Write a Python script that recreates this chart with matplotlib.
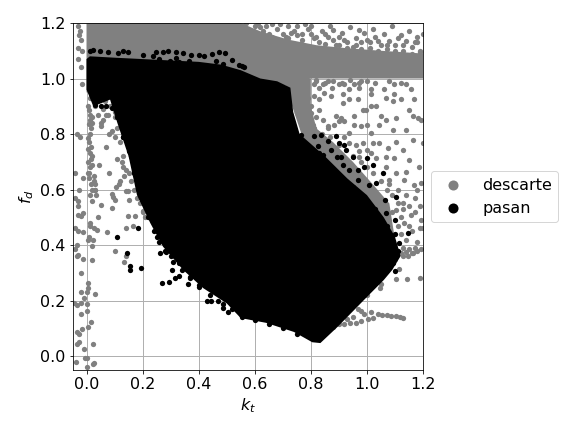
import matplotlib
matplotlib.use("Agg")
import matplotlib.pyplot as plt

# dense masses, read as outlines
black_kt = [0.0, 0.012, 0.1, 0.2, 0.3, 0.4, 0.48, 0.55, 0.62, 0.68, 0.727, 0.737, 0.76, 0.85, 0.93, 1.0, 1.06, 1.1,
            1.12, 1.09, 1.06, 1.0, 0.895, 0.834, 0.805, 0.74, 0.64, 0.55, 0.5, 0.416, 0.345, 0.273, 0.227,
            0.18, 0.15, 0.11, 0.084, 0.05, 0.024, 0.0]
black_fd = [1.07, 1.08, 1.075, 1.07, 1.065, 1.06, 1.05, 1.03, 1.0, 0.99, 0.967, 0.88, 0.80, 0.72, 0.64, 0.58, 0.50, 0.43,
            0.36, 0.31, 0.274, 0.213, 0.105, 0.047, 0.05, 0.087, 0.12, 0.137, 0.19, 0.245, 0.31, 0.394, 0.48,
            0.58, 0.72, 0.84, 0.924, 0.91, 0.90, 0.96]

band_kt = [0.0, 0.55, 0.62, 0.72, 0.82, 0.92, 1.05, 1.2, 1.2, 1.1, 0.98, 0.8, 0.76, 0.6, 0.0]
band_fd = [1.2, 1.2, 1.17, 1.14, 1.12, 1.11, 1.10, 1.09, 1.0, 1.0, 1.0, 1.0, 0.99, 0.95, 0.95]

wedge_kt = [0.70, 0.80, 0.80, 0.82, 0.88, 0.95, 1.02, 1.08, 1.1, 1.11, 1.0, 0.8]
wedge_fd = [1.0, 1.0, 0.90, 0.82, 0.77, 0.70, 0.62, 0.55, 0.42, 0.34, 0.4, 0.7]

# gray points, left side
gray_left_kt = [-0.04, -0.03, -0.02, -0.014, -0.04, -0.03, -0.014, 0.012, 0.012, 0.01, 0.024, 0.018, -0.033, -0.04,
                -0.035, -0.03, -0.012, 0.02, -0.02, 0.006, 0.006, -0.018, 0.0, -0.01, -0.045, -0.035, -0.018, 0.0,
                0.002, -0.018, 0.017, 0.006, -0.015, -0.033, -0.026, -0.033, -0.026, 0.024, -0.008, -0.006, 0.0,
                -0.038, 0.024, 0.027, 0.0, 0.03, 0.053, 0.038, 0.073, 0.091, 0.095, 0.1, 0.148, 0.152, 0.148, 0.172,
                0.14, 0.166, 0.102, 0.134, 0.14, 0.2,
                0.006, 0.01, 0.014, 0.018, 0.012, 0.008, 0.016, 0.02, 0.012, 0.006, 0.01, 0.015, 0.006, 0.011, 0.004,
                0.012, 0.006, 0.01, 0.03, 0.02, 0.035, 0.06, 0.075, 0.05, 0.09, 0.065, 0.085, 0.1, 0.11, 0.07, 0.045,
                0.08, 0.12, 0.13, 0.125, 0.135, 0.115, 0.105, 0.14, 0.02, 0.03, 0.012, 0.09, 0.028, 0.012, 0.015,
                -0.03, -0.025, -0.028, -0.02, -0.03, -0.015, -0.03, -0.02, -0.035, -0.025, -0.012, -0.028, -0.042,
                -0.03, -0.015, -0.03]
gray_left_fd = [0.57, 0.54, 0.506, 0.515, 0.46, 0.452, 0.447, 0.48, 0.468, 0.43, 0.42, 0.395, 0.40, 0.385, 0.36, 0.363,
                0.35, 0.347, 0.30, 0.263, 0.245, 0.232, 0.232, 0.208, 0.19, 0.185, 0.19, 0.188, 0.164, 0.15, 0.124,
                0.104, 0.097, 0.088, 0.078, 0.045, 0.05, 0.045, 0.027, -0.008, -0.008, -0.02, -0.027, -0.023, -0.04,
                0.223, 0.546, 0.453, 0.447, 0.534, 0.573, 0.564, 0.594, 0.564, 0.504, 0.506, 0.461, 0.47, 0.38, 0.338,
                0.36, 0.522,
                0.90, 0.885, 0.87, 0.86, 0.85, 0.835, 0.82, 0.84, 0.80, 0.785, 0.77, 0.755, 0.745, 0.73, 0.70, 0.68,
                0.66, 0.64, 0.62, 0.60, 0.58, 0.85, 0.87, 0.84, 0.81, 0.92, 0.90, 0.86, 0.82, 0.755, 0.69, 0.66, 0.63,
                0.68, 0.70, 0.65, 0.62, 0.61, 0.595, 0.72, 0.60, 0.58, 0.585, 0.63, 0.93, 0.96,
                1.19, 1.17, 1.155, 1.14, 1.11, 1.10, 1.07, 1.04, 0.80, 0.79, 0.64, 0.60, 0.66, 0.56, 0.98, 0.51]

# gray points, right of the black mass
gray_right_kt = [0.758, 0.77, 0.752, 0.818, 0.812, 0.83, 0.842, 0.848, 0.86, 0.877, 0.901, 0.919, 0.955, 0.937, 0.979,
                 0.973, 1.014, 1.014, 1.062, 1.098, 1.139, 1.157, 1.169, 1.098, 1.068, 1.092, 1.121, 0.871, 0.913,
                 0.937, 0.967, 0.913, 0.889, 0.907, 0.919, 0.901, 0.955, 0.985, 0.996, 1.014, 1.032, 1.05, 1.068,
                 1.104, 1.151, 1.193, 1.163, 1.181, 1.139, 1.092, 1.044, 1.002, 1.014, 0.979, 0.955, 0.937, 0.883,
                 0.86, 0.83, 0.842, 0.806, 0.782, 0.8, 0.812, 0.83, 0.788, 0.77, 0.752, 0.782,
                 1.044, 1.074, 1.104, 1.127, 1.163, 1.199, 1.068, 1.104, 1.151, 1.187, 1.133, 1.193, 1.08, 1.02, 0.985,
                 1.002, 0.961, 0.937, 0.973, 1.014, 1.032, 1.068, 1.139, 1.098, 1.169,
                 1.188, 1.143, 1.105, 1.114, 1.194, 1.164, 1.146, 1.188, 1.158, 1.194, 1.134, 1.105, 1.129, 1.17, 1.188,
                 1.14, 1.15, 1.16, 1.17, 1.18, 1.13, 1.12, 1.045, 1.05, 1.0]
gray_right_fd = [0.976, 0.985, 0.955, 0.992, 0.979, 0.967, 0.979, 0.949, 0.992, 0.967, 0.979, 0.979, 0.979, 0.961, 0.992,
                 0.967, 0.961, 0.943, 0.961, 0.979, 0.979, 0.961, 0.925, 0.943, 0.931, 0.919, 0.925, 0.937, 0.943, 0.925,
                 0.925, 0.913, 0.864, 0.858, 0.846, 0.846, 0.864, 0.888, 0.888, 0.901, 0.901, 0.864, 0.852, 0.858, 0.888,
                 0.852, 0.864, 0.858, 0.816, 0.816, 0.834, 0.834, 0.804, 0.828, 0.834, 0.804, 0.834, 0.828, 0.888, 0.852,
                 0.834, 0.828, 0.876, 0.937, 0.925, 0.949, 0.901, 0.876, 0.864,
                 0.767, 0.749, 0.773, 0.743, 0.779, 0.767, 0.682, 0.658, 0.707, 0.682, 0.634, 0.622, 0.634, 0.767, 0.767,
                 0.743, 0.761, 0.767, 0.719, 0.731, 0.713, 0.719, 0.664, 0.713, 0.616,
                 0.283, 0.279, 0.277, 0.315, 0.387, 0.372, 0.36, 0.462, 0.51, 0.492, 0.48, 0.528, 0.552, 0.57, 0.54,
                 0.375, 0.385, 0.37, 0.39, 0.38, 0.36, 0.37, 0.247, 0.259, 0.22]

# gray points above the band
gray_top_kt = [0.44, 0.47, 0.5, 0.53, 0.56, 0.59, 0.62, 0.65, 0.68, 0.71, 0.74, 0.77, 0.8, 0.83, 0.86, 0.89, 0.92, 0.95,
               0.98, 1.01, 1.04, 1.07, 1.1, 1.13, 1.16, 1.19, 0.58, 0.63, 0.67, 0.72, 0.76, 0.79, 0.84, 0.87, 0.91, 0.94,
               0.99, 1.02, 1.06, 1.09, 1.12, 1.15, 1.18, 0.7, 0.75, 0.81, 0.85, 0.9, 0.96, 1.0, 1.05, 1.11, 1.17, 0.88,
               0.93, 0.97, 1.03, 1.08, 1.14, 1.2, 0.78, 0.73, 0.66, 0.6, 0.54]
gray_top_fd = [1.19, 1.18, 1.185, 1.175, 1.19, 1.17, 1.185, 1.16, 1.18, 1.15, 1.17, 1.14, 1.16, 1.13, 1.15, 1.12, 1.14,
               1.115, 1.13, 1.11, 1.135, 1.105, 1.12, 1.10, 1.115, 1.095, 1.15, 1.17, 1.14, 1.19, 1.125, 1.18, 1.17, 1.19,
               1.165, 1.185, 1.165, 1.18, 1.16, 1.19, 1.155, 1.17, 1.15, 1.13, 1.155, 1.145, 1.125, 1.15, 1.145, 1.14,
               1.12, 1.145, 1.13, 1.175, 1.13, 1.175, 1.15, 1.135, 1.135, 1.16, 1.195, 1.165, 1.195, 1.19, 1.155]

# gray points filling in around the masses
gray_extra_kt = [0.46, 0.49, 0.52, 0.55, 0.57, 0.6, 0.61, 0.64, 0.66, 0.69,
                 0.7, 0.72, 0.75, 0.77, 0.8, 0.82, 0.85, 0.88, 0.9, 0.93,
                 0.96, 0.98, 1.01, 1.04, 1.07, 1.1, 1.13, 1.16, 1.19, 1.18,
                 0.82, 0.85, 0.88, 0.91, 0.94, 0.97, 1.0, 1.03, 1.08, 1.12,
                 0.75, 0.77, 0.79, 0.78, 0.8, 0.82, 0.76, 0.79, 0.81, 0.84,
                 0.86, 0.87, 0.9, 0.92, 0.95, 0.97, 0.98, 1.0, 1.02, 1.05,
                 1.07, 1.09, 1.11, 1.13, 1.15, 1.12, 1.14, 1.16, 1.18, 1.13,
                 1.11, 1.09, 1.12, 1.17, 1.15, 1.2, 1.08, 1.11, 1.14, 1.18,
                 0.03, 0.04, 0.06, 0.07, 0.09, 0.1, 0.05, 0.08, 0.1, 0.12,
                 0.11, 0.13, 0.14, 0.15, 0.16, 0.17, 0.18, 0.19, 0.2, 0.21,
                 0.015, 0.02, 0.01, 0.025, 0.015, 0.03, 0.02, 0.04, 0.025, 0.005]
gray_extra_fd = [1.17, 1.2, 1.19, 1.165, 1.2, 1.15, 1.2, 1.19, 1.15, 1.195,
                 1.16, 1.145, 1.19, 1.16, 1.19, 1.15, 1.16, 1.14, 1.12, 1.11,
                 1.12, 1.105, 1.13, 1.1, 1.12, 1.1, 1.12, 1.09, 1.1, 1.13,
                 0.995, 0.985, 0.99, 0.985, 0.995, 0.985, 0.99, 0.985, 0.99, 0.985,
                 0.93, 0.95, 0.93, 0.86, 0.9, 0.86, 0.88, 0.82, 0.82, 0.8,
                 0.82, 0.79, 0.76, 0.79, 0.72, 0.74, 0.7, 0.68, 0.66, 0.63,
                 0.6, 0.58, 0.55, 0.53, 0.47, 0.44, 0.42, 0.45, 0.41, 0.39,
                 0.47, 0.52, 0.5, 0.52, 0.54, 0.46, 0.62, 0.6, 0.58, 0.6,
                 0.9, 0.87, 0.89, 0.87, 0.9, 0.88, 0.83, 0.8, 0.79, 0.77,
                 0.71, 0.72, 0.67, 0.66, 0.63, 0.6, 0.57, 0.55, 0.52, 0.5,
                 0.71, 0.69, 0.66, 0.65, 0.62, 0.6, 0.56, 0.5, 0.46, 0.42]

# gray tail under the mass
tail_kt = [0.88, 0.902, 0.92, 0.94, 0.96, 0.98, 1.004, 1.02, 0.968, 0.978, 0.99, 1.015, 1.04, 1.055, 1.07, 1.085, 1.105,
           1.118, 1.128, 0.95, 0.93]
tail_fd = [0.105, 0.115, 0.115, 0.118, 0.12, 0.125, 0.133, 0.136, 0.169, 0.163, 0.15, 0.159, 0.15, 0.148, 0.147, 0.145,
           0.143, 0.14, 0.139, 0.14, 0.135]

# black points around the edges of the mass
black_pts_kt = [0.012, 0.024, 0.047, 0.077, 0.112, 0.13, 0.148, 0.2, 0.249, 0.272, 0.29, 0.32, 0.343, 0.373, 0.402, 0.42,
                0.447, 0.471, 0.494, 0.518, 0.462, 0.556, 0.485, 0.26, 0.296, 0.33, 0.367, 0.32, 0.237, 0.545, 0.563,
                0.11, 0.185, 0.145, 0.156, 0.156, 0.195, 0.27, 0.295, 0.315, 0.33, 0.363, 0.305, 0.43, 0.445, 0.487,
                0.487, 0.505, 0.555, 0.263, 0.285,
                0.764, 0.812, 0.836, 0.889, 0.86, 0.899, 0.919, 0.925, 0.949, 0.895, 0.907, 0.999, 1.056, 1.02, 0.99,
                0.967, 0.913, 0.937, 1.032, 1.008, 0.967, 0.871, 0.824, 0.812, 0.842,
                1.063, 1.105, 1.015, 1.045, 1.069, 1.099, 1.146, 1.116, 1.099, 1.093, 1.099, 1.081, 1.051,
                0.02, 0.035, 0.05, 0.09, 0.105, 0.125, 0.145, 0.13, 0.16, 0.175, 0.2, 0.215, 0.25, 0.3, 0.33, 0.37, 0.4,
                0.03, 0.05, 0.07, 0.09, 0.11, 0.13, 0.15, 0.17, 0.19, 0.2,
                0.22, 0.24, 0.26, 0.28, 0.31, 0.34, 0.37, 0.4, 0.44, 0.47,
                0.52, 0.55, 0.6, 0.65, 0.7, 0.75,
                0.79, 0.83, 0.87, 0.9, 0.95, 0.99, 1.03, 1.07, 1.1, 1.11]
black_pts_fd = [1.10, 1.104, 1.098, 1.095, 1.091, 1.098, 1.095, 1.083, 1.095, 1.095, 1.098, 1.097, 1.091, 1.085, 1.083,
                1.08, 1.09, 1.095, 1.091, 1.068, 1.064, 1.046, 1.052, 1.07, 1.064, 1.06, 1.064, 1.073, 1.08, 1.05, 1.04,
                0.43, 0.46, 0.37, 0.325, 0.31, 0.318, 0.263, 0.267, 0.28, 0.29, 0.26, 0.31, 0.198, 0.2, 0.187, 0.172,
                0.158, 0.14, 0.37, 0.375,
                0.798, 0.792, 0.795, 0.792, 0.774, 0.768, 0.762, 0.744, 0.719, 0.719, 0.719, 0.713, 0.658, 0.688, 0.682,
                0.67, 0.688, 0.67, 0.622, 0.616, 0.634, 0.744, 0.756, 0.719, 0.725,
                0.564, 0.574, 0.54, 0.498, 0.516, 0.492, 0.444, 0.408, 0.39, 0.336, 0.306, 0.438, 0.48,
                0.945, 0.925, 0.965, 0.955, 0.905, 0.855, 0.82, 0.79, 0.72, 0.66, 0.62, 0.55, 0.43, 0.36, 0.335, 0.28, 0.25,
                0.905, 0.9, 0.9, 0.895, 0.86, 0.79, 0.74, 0.66, 0.6, 0.56,
                0.5, 0.45, 0.41, 0.38, 0.34, 0.31, 0.285, 0.255, 0.22, 0.2,
                0.17, 0.15, 0.13, 0.115, 0.1, 0.08,
                0.74, 0.73, 0.67, 0.64, 0.61, 0.57, 0.53, 0.47, 0.44, 0.38]

axis_ticks = [0.0, 0.2, 0.4, 0.6, 0.8, 1.0, 1.2]

GRAY = "#808080"
POINT_SIZE = 28

fig = plt.figure(figsize=(8, 6), dpi=72)
ax = fig.add_axes([72.5 / 576, 62 / 432, 350.5 / 576, 347 / 432])

ax.grid(True, color="#b0b0b0", linewidth=1)
ax.set_axisbelow(True)

ax.fill(band_kt, band_fd, color=GRAY, linewidth=0, zorder=2)
ax.fill(wedge_kt, wedge_fd, color=GRAY, linewidth=0, zorder=2)
ax.scatter(gray_left_kt, gray_left_fd, s=POINT_SIZE, color=GRAY, linewidths=0, zorder=2, label="descarte")
ax.scatter(gray_right_kt, gray_right_fd, s=POINT_SIZE, color=GRAY, linewidths=0, zorder=2)
ax.scatter(gray_top_kt, gray_top_fd, s=POINT_SIZE, color=GRAY, linewidths=0, zorder=2)
ax.scatter(gray_extra_kt, gray_extra_fd, s=POINT_SIZE, color=GRAY, linewidths=0, zorder=2)
ax.scatter(tail_kt, tail_fd, s=POINT_SIZE, color=GRAY, linewidths=0, zorder=2)

ax.fill(black_kt, black_fd, color="black", linewidth=0, zorder=3)
ax.scatter(black_pts_kt, black_pts_fd, s=POINT_SIZE, color="black", linewidths=0, zorder=3, label="pasan")

ax.set_xlim(-0.05, 1.2)
ax.set_ylim(-0.05, 1.2)
ax.set_xticks(axis_ticks)
ax.set_yticks(axis_ticks)
ax.tick_params(labelsize=16)
ax.set_xlabel("$k_t$", fontsize=16)
ax.set_ylabel("$f_d$", fontsize=16)

ax.legend(loc="center left", bbox_to_anchor=(1.0, 0.5), fontsize=16, markerscale=1.9)

fig.savefig("out.png", dpi=72)
